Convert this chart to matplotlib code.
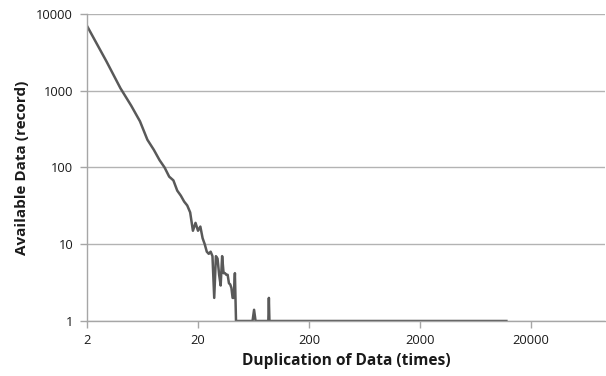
import matplotlib
matplotlib.use("Agg")
import matplotlib.pyplot as plt
from matplotlib.ticker import FixedLocator, FixedFormatter, NullLocator

# Data
dup_times = [2, 3, 4, 5, 6, 7, 8, 9, 10, 11, 12, 13, 14, 15, 16, 17, 18, 19, 20,
             21, 22, 23, 24, 25, 26, 27, 28, 29, 30, 31, 32, 33, 34, 35, 36, 37,
             38, 39, 40, 41, 42, 43, 44, 62, 64, 66, 86, 87, 88, 12000]
available = [7000, 2400, 1080, 640, 400, 230, 170, 125, 100, 76, 68, 50, 43, 36,
             32, 26, 15, 19, 15, 17, 12, 10, 8, 7.5, 8, 7, 2, 7, 6.5, 4, 2.9, 7,
             4.2, 4.2, 4, 4, 3.1, 3, 2.7, 2, 2, 4.2, 1, 1, 1.4, 1, 1, 2, 1, 1]

x_ticks = [2, 20, 200, 2000, 20000]
x_tick_labels = ["2", "20", "200", "2000", "20000"]
y_ticks = [1, 10, 100, 1000, 10000]
y_tick_labels = ["1", "10", "100", "1000", "10000"]

plt.rcParams['font.family'] = ['Open Sans', 'DejaVu Sans']

fig = plt.figure(figsize=(6.06, 3.76), dpi=100)
ax = fig.add_axes([87/606, 1 - 321/376, (605 - 87)/606, (321 - 14)/376])

ax.plot(dup_times, available, color='#595959', lw=1.8, solid_joinstyle='round')

ax.set_xscale('log')
ax.set_yscale('log')
ax.set_xlim(2, 2 * 10 ** ((605 - 87) / 111))
ax.set_ylim(1, 10000)

ax.xaxis.set_major_locator(FixedLocator(x_ticks))
ax.xaxis.set_major_formatter(FixedFormatter(x_tick_labels))
ax.xaxis.set_minor_locator(NullLocator())
ax.yaxis.set_major_locator(FixedLocator(y_ticks))
ax.yaxis.set_major_formatter(FixedFormatter(y_tick_labels))
ax.yaxis.set_minor_locator(NullLocator())

ax.grid(axis='y', color='#b3b3b3', lw=1.0)
ax.set_axisbelow(True)
for s in ['top', 'right']:
    ax.spines[s].set_visible(False)
for s in ['left', 'bottom']:
    ax.spines[s].set_color('#a6a6a6')
    ax.spines[s].set_linewidth(1.0)

ax.tick_params(axis='both', colors='#a6a6a6', labelcolor='#1a1a1a', labelsize=9.3,
               length=5, width=1.0)
ax.tick_params(axis='x', pad=4)
ax.tick_params(axis='y', pad=5)

ax.set_xlabel('Duplication of Data (times)', fontsize=11.2, fontweight='bold',
              color='#1a1a1a', labelpad=5)
ax.set_ylabel('Available Data (record)', fontsize=11, fontweight='bold',
              color='#1a1a1a', labelpad=5)

fig.savefig('out.png', dpi=100)
